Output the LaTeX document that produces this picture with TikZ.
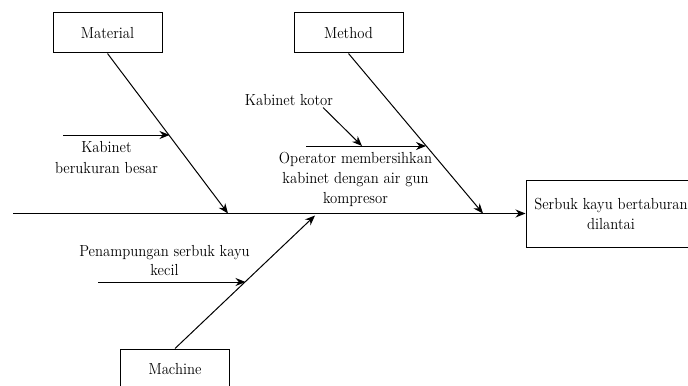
\documentclass[tikz,border=0pt]{standalone}
\usepackage{fontspec}
\setmainfont{lmroman12-regular.otf}[FakeStretch=0.92]
\usetikzlibrary{arrows.meta}
\begin{document}
\begin{tikzpicture}[x=0.75pt,y=-0.75pt,
  txt/.style={font=\fontsize{12}{15}\selectfont},
  box/.style={txt,draw,line width=0.75pt,minimum width=81.75pt,minimum height=30pt,inner sep=0pt,align=center},
  lbl/.style={txt,align=center,inner sep=0pt},
  arr/.style={line width=0.75pt,-{Stealth[length=7.5pt,width=6pt]}}]
\useasboundingbox (0,0) rectangle (688,385);

% category boxes and effect box
\node[box] (material) at (107.5,33) {Material};
\node[box] (method) at (348.5,33) {Method};
\node[box] (machine) at (175,369) {Machine};
\node[box,minimum width=127.5pt,minimum height=50.25pt] (effect) at (611,213.5) {Serbuk kayu bertaburan\\dilantai};

% spine
\coordinate (tail) at (13,213.5);
\draw[arr] (tail) -- (effect.west);

% main bones
\coordinate (matend) at (228,213.5);
\coordinate (metend) at (483,213.5);
\coordinate (macend) at (315,215.5);
\draw[arr] (material.south) -- (matend);
\draw[arr] (method.south) -- (metend);
\draw[arr] (machine.north) -- (macend);

% material causes
\coordinate (k1s) at (63,135);
\coordinate (k1e) at (169.5,135);
\draw[arr] (k1s) -- (k1e);
\node[lbl,font=\fontsize{12}{15.75}\selectfont] (k1) at (106.5,157.5) {Kabinet\\berukuran besar};

% method causes
\node[lbl] (kk) at (289,100) {Kabinet kotor};
\coordinate (kks) at (323,107.5);
\coordinate (kke) at (362,146);
\draw[arr] (kks) -- (kke);
\coordinate (ops) at (306,146);
\coordinate (ope) at (426,146);
\draw[arr] (ops) -- (ope);
\node[lbl] (op) at (355.5,179) {Operator membersihkan\\kabinet dengan air gun\\kompresor};

% machine causes
\node[lbl,font=\fontsize{12}{14.25}\selectfont] (pk) at (164.5,260.5) {Penampungan serbuk kayu\\kecil};
\coordinate (pks) at (98,282);
\coordinate (pke) at (245.5,282);
\draw[arr] (pks) -- (pke);
\end{tikzpicture}
\end{document}
